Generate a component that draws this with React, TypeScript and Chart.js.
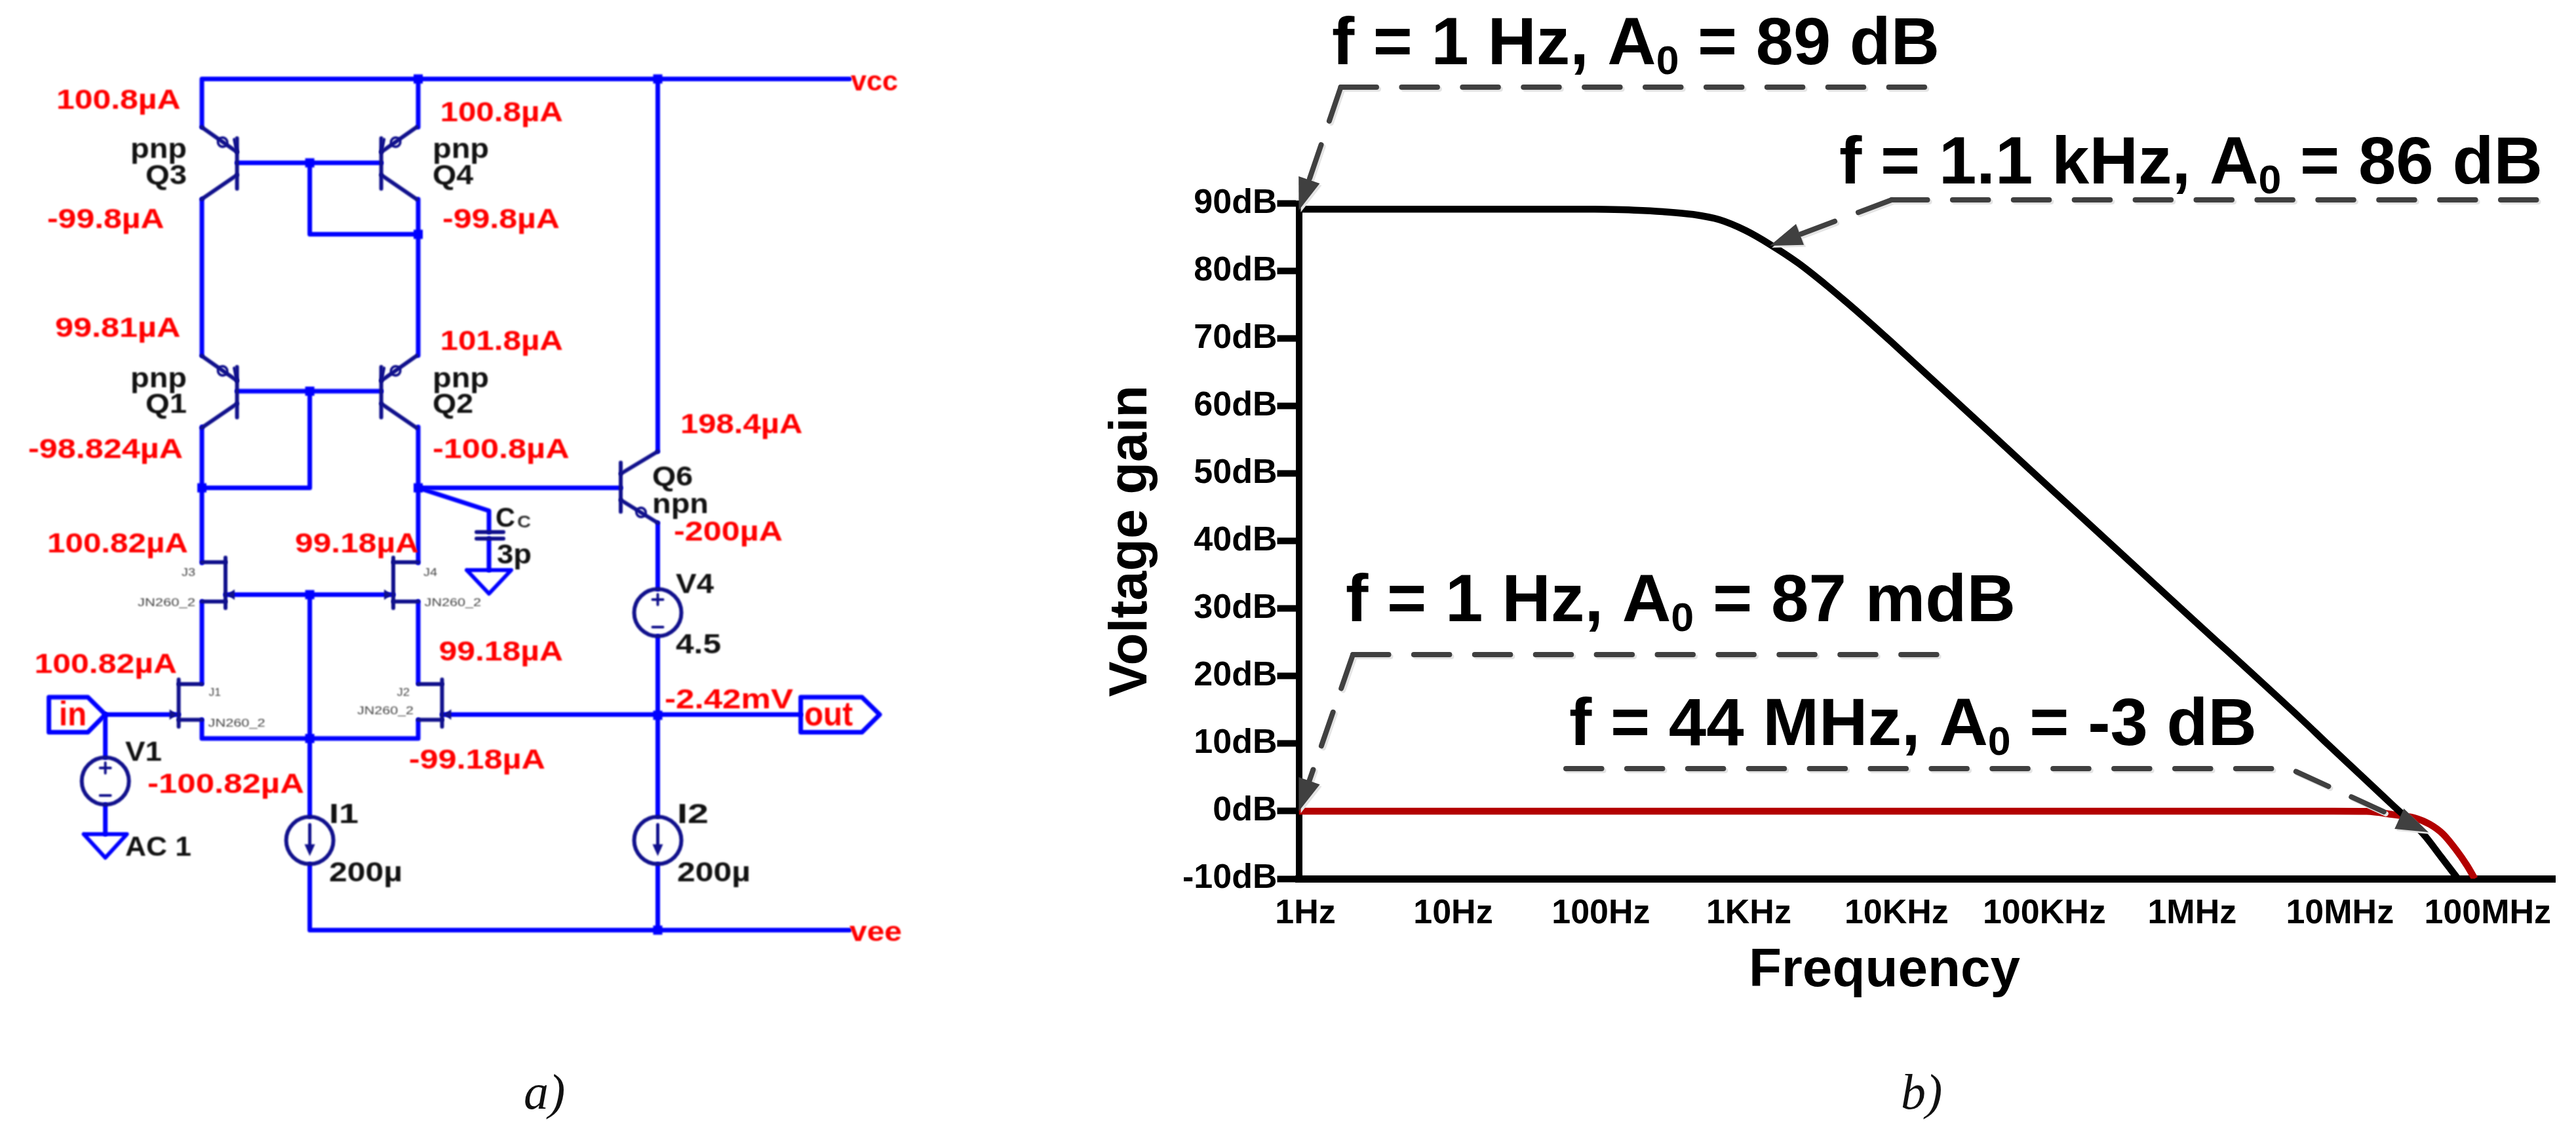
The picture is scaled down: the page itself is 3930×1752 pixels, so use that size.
import React, { useEffect, useRef } from "react";
import { Chart, registerables } from "chart.js";

Chart.register(...registerables);

// ---------- chart data ----------
const blackFreq = [1, 10, 100, 120, 186, 290, 466, 701, 1055, 1540, 2388, 3597, 5070, 6900, 10000, 100000, 1000000, 6250000, 9100000, 15140000, 25200000, 40700000, 53200000, 69500000];
const blackGain = [89.15, 89.15, 89.15, 89.13, 89.02, 88.8, 88.38, 87.6, 86.0, 83.95, 81.2, 78.15, 75.4, 72.85, 69.68, 49.53, 29.4, 13.39, 9.98, 5.45, 0.89, -3.4, -6.67, -10];
const redFreq = [1, 10, 100, 1000, 10000, 100000, 1000000, 10000000, 16800000, 25200000, 35400000, 45000000, 55300000, 67600000, 80000000, 90600000];
const redGain = [0, 0, 0, 0, 0, 0, 0, 0, -0.03, -0.5, -1, -1.95, -3.4, -5.7, -8, -10];
const xTickValues = [1, 10, 100, 1000, 10000, 100000, 1000000, 10000000, 100000000];
const xTickLabels = ["1Hz", "10Hz", "100Hz", "1KHz", "10KHz", "100KHz", "1MHz", "10MHz", "100MHz"];
const yTickValues = [-10, 0, 10, 20, 30, 40, 50, 60, 70, 80, 90];
const yTickLabels = ["-10dB", "0dB", "10dB", "20dB", "30dB", "40dB", "50dB", "60dB", "70dB", "80dB", "90dB"];
const xAxisTitle = "Frequency";
const yAxisTitle = "Voltage gain";
const noteHead = ["f = 1 Hz, A", "f = 1.1 kHz, A", "f = 1 Hz, A", "f = 44 MHz, A"];
const noteTail = [" = 89 dB", " = 86 dB", " = 87 mdB", " = -3 dB"];
const noteTipFreq = [1, 1540, 1, 44000000];
const noteTipGain = [89, 83.75, 0, -3.1];

// ---------- schematic text ----------
const redTexts = ["100.8µA", "100.8µA", "-99.8µA", "-99.8µA", "99.81µA", "101.8µA", "-98.824µA", "-100.8µA", "198.4µA", "-200µA", "100.82µA", "99.18µA", "100.82µA", "99.18µA", "-99.18µA", "-100.82µA", "-2.42mV", "vcc", "vee", "in", "out"];
const blackTexts = ["pnp", "Q3", "pnp", "Q4", "pnp", "Q1", "pnp", "Q2", "Q6", "npn", "C", "3p", "V4", "4.5", "V1", "AC 1", "I1", "200µ", "I2", "200µ"];
const deviceTexts = ["J3", "J4", "JN260_2", "JN260_2", "J1", "J2", "JN260_2", "JN260_2"];

const FONT = '"Liberation Sans"';
const WIRE = "#0000ff";
const DEV = "#10108c";

function fit(ctx: any, s: string, x0: number, x1: number, base: number, size: number, color: string, weight = "bold") {
  ctx.save();
  ctx.font = `${weight} ${size}px ${FONT}`;
  ctx.fillStyle = color;
  ctx.textAlign = "left";
  ctx.textBaseline = "alphabetic";
  const w = ctx.measureText(s).width;
  ctx.translate(x0, base);
  ctx.scale((x1 - x0) / w, 1);
  ctx.fillText(s, 0, 0);
  ctx.restore();
}

function poly(ctx: any, pts: number[][], color: string, width: number) {
  ctx.strokeStyle = color;
  ctx.lineWidth = width;
  ctx.lineCap = "round";
  ctx.lineJoin = "round";
  ctx.beginPath();
  pts.forEach((p, i) => (i ? ctx.lineTo(p[0], p[1]) : ctx.moveTo(p[0], p[1])));
  ctx.stroke();
}

function dot(ctx: any, x: number, y: number, r = 8) {
  ctx.fillStyle = WIRE;
  ctx.fillRect(x - r, y - r, r * 2, r * 2);
}

function drawBjt(ctx: any, barX: number, dir: number, top: number, pnp: boolean) {
  const outer = barX + dir * 54;
  poly(ctx, [[barX, top], [barX, top + 77]], DEV, 6);
  poly(ctx, [[outer, top - 17], [barX, top + 21]], DEV, 6);
  poly(ctx, [[barX, top + 56], [outer, top + 93]], DEV, 6);
  const cx = barX + dir * 22;
  ctx.strokeStyle = DEV;
  ctx.lineWidth = 4;
  ctx.beginPath();
  ctx.arc(cx, top + 6, 7, 0, Math.PI * 2);
  ctx.stroke();
  if (pnp) poly(ctx, [[barX, top + 21], [barX + dir * 4, top + 2]], DEV, 5);
}

function drawNpnQ6(ctx: any) {
  poly(ctx, [[947, 706], [947, 781]], DEV, 6);
  poly(ctx, [[947, 723], [1003.5, 689]], DEV, 6);
  poly(ctx, [[947, 763], [1003.5, 798]], DEV, 6);
  ctx.strokeStyle = DEV;
  ctx.lineWidth = 4;
  ctx.beginPath();
  ctx.arc(978, 782, 7, 0, Math.PI * 2);
  ctx.stroke();
}

function drawJfet(ctx: any, barX: number, wireX: number, top: number, gateY: number, srcY: number, len: number, gateDir: number) {
  poly(ctx, [[barX, top], [barX, top + len]], DEV, 6);
  poly(ctx, [[wireX, top + 7], [barX, top + 7]], DEV, 6);
  poly(ctx, [[wireX, srcY], [barX, srcY]], DEV, 6);
  ctx.fillStyle = DEV;
  ctx.beginPath();
  ctx.moveTo(barX + gateDir * 2, gateY);
  ctx.lineTo(barX + gateDir * 14, gateY - 8);
  ctx.lineTo(barX + gateDir * 14, gateY + 8);
  ctx.closePath();
  ctx.fill();
}

function ground(ctx: any, x: number, top: number, half: number, h: number) {
  poly(ctx, [[x - half, top], [x + half, top], [x, top + h], [x - half, top]], WIRE, 6);
}

function source(ctx: any, x: number, y: number, kind: "v" | "i") {
  ctx.strokeStyle = DEV;
  ctx.lineWidth = 6;
  ctx.beginPath();
  ctx.arc(x, y, 36, 0, Math.PI * 2);
  ctx.stroke();
  if (kind === "v") {
    poly(ctx, [[x - 8, y - 20], [x + 8, y - 20]], DEV, 4);
    poly(ctx, [[x, y - 28], [x, y - 12]], DEV, 4);
    poly(ctx, [[x - 8, y + 22], [x + 8, y + 22]], DEV, 4);
  } else {
    poly(ctx, [[x, y - 24], [x, y + 12]], DEV, 5);
    ctx.fillStyle = DEV;
    ctx.beginPath();
    ctx.moveTo(x - 8, y + 6);
    ctx.lineTo(x + 8, y + 6);
    ctx.lineTo(x, y + 24);
    ctx.closePath();
    ctx.fill();
  }
}

function drawSchematic(ctx: any) {
  const A = 308, B = 638, C = 1003.5, M = 472.6;
  const wires = [
    [[A, 194], [A, 120.5], [1296, 120.5]],
    [[B, 120.5], [B, 194]],
    [[C, 120.5], [C, 689]],
    [[361.6, 248.5], [581.6, 248.5]],
    [[M, 248.5], [M, 357.6], [B, 357.6]],
    [[A, 304], [A, 542.4]],
    [[B, 304], [B, 542.4]],
    [[361.6, 597], [581.6, 597]],
    [[M, 597], [M, 744.5], [A, 744.5]],
    [[A, 651.5], [A, 859]],
    [[B, 651.5], [B, 859]],
    [[B, 744.5], [947, 744.5]],
    [[B, 744.5], [746, 779.5], [746, 812]],
    [[746, 822], [746, 870]],
    [[344, 907.5], [600, 907.5]],
    [[M, 907.5], [M, 1246]],
    [[A, 918], [A, 1043]],
    [[B, 918], [B, 1043]],
    [[A, 1098.5], [A, 1127], [B, 1127], [B, 1098.5]],
    [[M, 1319], [M, 1419.5], [1296, 1419.5]],
    [[C, 798], [C, 899]],
    [[C, 971], [C, 1246]],
    [[C, 1319], [C, 1419.5]],
    [[160.7, 1090.5], [272.6, 1090.5]],
    [[674.4, 1090.5], [1221.6, 1090.5]],
    [[160.7, 1090.5], [160.7, 1156]],
    [[160.7, 1228], [160.7, 1273]],
  ];
  wires.forEach((w) => poly(ctx, w, WIRE, 7));

  drawBjt(ctx, 361.6, -1, 211, true);
  drawBjt(ctx, 581.6, 1, 211, true);
  drawBjt(ctx, 361.6, -1, 560, true);
  drawBjt(ctx, 581.6, 1, 560, true);
  drawNpnQ6(ctx);

  drawJfet(ctx, 344, A, 851, 907.5, 918, 77, 1);
  drawJfet(ctx, 600, B, 851, 907.5, 918, 77, -1);
  drawJfet(ctx, 272.6, A, 1037, 1090.5, 1098.5, 72, -1);
  drawJfet(ctx, 674.4, B, 1037, 1090.5, 1098.5, 72, 1);

  poly(ctx, [[727, 812], [768, 812]], DEV, 6);
  poly(ctx, [[727, 822], [768, 822]], DEV, 6);
  ground(ctx, 746, 870, 34, 36);
  ground(ctx, 160.7, 1273, 33, 36);

  source(ctx, C, 935, "v");
  source(ctx, 160.7, 1192, "v");
  source(ctx, M, 1282.6, "i");
  source(ctx, C, 1282.6, "i");

  [[B, 120.5], [C, 120.5], [M, 248.5], [B, 357.6], [M, 597], [A, 744.5], [B, 744.5], [M, 907.5], [M, 1127], [C, 1091.6], [C, 1419.5]].forEach((d) => dot(ctx, d[0], d[1], 7));

  poly(ctx, [[74.6, 1064], [134, 1064], [160.7, 1090.5], [134, 1117.5], [74.6, 1117.5], [74.6, 1064]], WIRE, 7);
  poly(ctx, [[1221.6, 1064], [1315, 1064], [1342, 1090.5], [1315, 1117.5], [1221.6, 1117.5], [1221.6, 1064]], WIRE, 7);

  const redPos = [
    [86, 275.5, 166], [671.5, 859, 185], [72, 250.6, 348], [675, 854, 348], [84, 275.5, 514], [671.5, 859, 534],
    [43, 279, 698.6], [660, 868.6, 698.6], [1038, 1224.5, 661], [1028, 1194, 825], [72, 287, 842.6], [450, 639, 842.6],
    [52.6, 270, 1027], [669.6, 859, 1008], [623.7, 832, 1173], [225, 464, 1209.6], [1014, 1210, 1081], [1298, 1370, 138],
    [1296, 1376, 1436], [90, 132, 1107], [1227, 1301, 1107],
  ];
  redTexts.forEach((t, i) => fit(ctx, t, redPos[i][0], redPos[i][1], redPos[i][2], i >= 19 ? 52 : 42, "#ff0000"));

  const blackPos = [
    [199, 285, 241], [222, 285, 281], [660, 746, 241], [660, 722, 281], [199, 285, 591], [222, 285, 630], [660, 746, 591], [660, 722, 630],
    [995, 1057, 740.5], [995, 1081, 783], [756, 786, 803.6], [758, 811, 860], [1031, 1089, 904.6], [1031, 1100, 996.7],
    [191, 247, 1160.7], [191, 292, 1305.6], [502, 547, 1255.6], [502, 614, 1345], [1033, 1081, 1255.6], [1033, 1145, 1345],
  ];
  blackTexts.forEach((t, i) => fit(ctx, t, blackPos[i][0], blackPos[i][1], blackPos[i][2], 42, "#111111"));
  fit(ctx, "C", 789, 810, 805, 26, "#333333");

  const devPos = [
    [277, 298, 879], [646, 667, 879], [210, 298, 925], [647.6, 734, 925], [318.5, 337, 1062], [605.5, 625, 1062], [317.6, 404.6, 1109], [545, 631, 1090],
  ];
  deviceTexts.forEach((t, i) => fit(ctx, t, devPos[i][0], devPos[i][1], devPos[i][2], 16, "#444444", "normal"));
}

function drawCaption(ctx: any, s: string, x: number, base: number) {
  ctx.save();
  ctx.font = 'italic 76px "Liberation Serif"';
  ctx.fillStyle = "#111";
  ctx.textAlign = "left";
  ctx.textBaseline = "alphabetic";
  ctx.fillText(s, x, base);
  ctx.restore();
}

function drawNotes(chart: any) {
  const ctx = chart.ctx;
  const xs = chart.scales.x;
  const ys = chart.scales.y;
  const layout = [
    { text: [2032, 2959, 98], rule: [[2045.5, 133], [2944, 133]], leader: [2045.5, 133] },
    { text: [2806, 3879, 280], rule: [[2886, 305], [3875, 305]], leader: [2886, 305] },
    { text: [2053, 3075, 948], rule: [[2064, 999], [2959, 999]], leader: [2064, 999] },
    { text: [2394, 3443, 1137], rule: null, leader: [3493, 1173], start: [2389, 1173] },
  ];
  layout.forEach((n: any, i) => {
    const tip = [xs.getPixelForValue(noteTipFreq[i]), ys.getPixelForValue(noteTipGain[i])];
    const prev = n.leader;
    const ang = Math.atan2(tip[1] - prev[1], tip[0] - prev[0]);
    const hl = 49, hw = 17;
    const bx = tip[0] - Math.cos(ang) * hl;
    const by = tip[1] - Math.sin(ang) * hl;
    const paths = n.rule ? [n.rule, [n.leader, [bx, by]]] : [[n.start, n.leader, [bx, by]]];
    [["#e4e4e4", 3], ["#404040", 0]].forEach(([col, off]: any) => {
      ctx.save();
      ctx.translate(off, off);
      ctx.setLineDash([54.5, 38.4]);
      paths.forEach((p: number[][]) => poly(ctx, p, col, 8));
      ctx.setLineDash([]);
      ctx.fillStyle = col;
      ctx.beginPath();
      ctx.moveTo(tip[0], tip[1]);
      ctx.lineTo(bx - Math.sin(ang) * hw, by + Math.cos(ang) * hw);
      ctx.lineTo(bx + Math.sin(ang) * hw, by - Math.cos(ang) * hw);
      ctx.closePath();
      ctx.fill();
      ctx.restore();
    });

    const [x0, x1, base] = n.text;
    const size = 102, sub = 62;
    ctx.save();
    ctx.textAlign = "left";
    ctx.textBaseline = "alphabetic";
    ctx.fillStyle = "#000";
    ctx.font = `bold ${size}px ${FONT}`;
    const w1 = ctx.measureText(noteHead[i]).width;
    const w3 = ctx.measureText(noteTail[i]).width;
    ctx.font = `bold ${sub}px ${FONT}`;
    const w2 = ctx.measureText("0").width;
    ctx.translate(x0, base);
    ctx.scale((x1 - x0) / (w1 + w2 + w3), 1);
    ctx.font = `bold ${size}px ${FONT}`;
    ctx.fillText(noteHead[i], 0, 0);
    ctx.fillText(noteTail[i], w1 + w2, 0);
    ctx.font = `bold ${sub}px ${FONT}`;
    ctx.fillText("0", w1, 15);
    ctx.restore();
  });
  fit(ctx, xAxisTitle, 2668, 3082, 1505, 81, "#000");
}

const sceneryPlugin = {
  id: "scenery",
  beforeDraw(chart: any) {
    const ctx = chart.ctx;
    ctx.save();
    ctx.fillStyle = "#ffffff";
    ctx.fillRect(0, 0, chart.width, chart.height);
    ctx.filter = "blur(1px)";
    drawSchematic(ctx);
    ctx.filter = "none";
    drawCaption(ctx, "a)", 799, 1692);
    drawCaption(ctx, "b)", 2900, 1692);
    ctx.restore();
  },
  afterDraw(chart: any) {
    const ctx = chart.ctx;
    ctx.save();
    drawNotes(chart);
    ctx.restore();
  },
};

export default function App() {
  const ref = useRef<HTMLCanvasElement | null>(null);
  useEffect(() => {
    document.body.style.margin = "0";
    const chart = new Chart(ref.current as any, {
      type: "line",
      plugins: [sceneryPlugin],
      data: {
        datasets: [
          {
            label: "Gain",
            data: blackFreq.map((f, i) => ({ x: f, y: blackGain[i] })),
            borderColor: "#000000",
            borderWidth: 10.5,
            pointRadius: 0,
            cubicInterpolationMode: "monotone",
          },
          {
            label: "Closed loop gain",
            data: redFreq.map((f, i) => ({ x: f, y: redGain[i] })),
            borderColor: "#b30000",
            borderWidth: 10.5,
            pointRadius: 0,
            cubicInterpolationMode: "monotone",
          },
        ],
      },
      options: {
        responsive: false,
        devicePixelRatio: 1,
        animation: false,
        layout: { padding: { left: 1678, top: 310.6, right: 32, bottom: 311 } },
        plugins: { legend: { display: false }, title: { display: false }, tooltip: { enabled: false } },
        scales: {
          x: {
            type: "logarithmic",
            min: 1,
            max: Math.pow(10, 8.5),
            afterBuildTicks: (s: any) => {
              s.ticks = xTickValues.map((v) => ({ value: v }));
            },
            afterFit: (s: any) => {
              s.height = 100;
            },
            grid: { display: false },
            border: { display: true, color: "#000000", width: 11 },
            ticks: {
              autoSkip: false,
              maxRotation: 0,
              minRotation: 0,
              padding: 14,
              labelOffset: 10,
              color: "#000000",
              font: { family: "Liberation Sans", weight: "bold", size: 52 },
              callback: (v: any) => {
                const i = xTickValues.indexOf(Number(v));
                return i >= 0 ? xTickLabels[i] : "";
              },
            },
          },
          y: {
            type: "linear",
            min: -10,
            max: 90,
            afterBuildTicks: (s: any) => {
              s.ticks = yTickValues.map((v) => ({ value: v }));
            },
            afterFit: (s: any) => {
              s.width = 303.5;
            },
            grid: { drawOnChartArea: false, drawTicks: true, tickLength: 33, tickWidth: 10, tickColor: "#000000" },
            border: { display: true, color: "#000000", width: 10 },
            title: {
              display: true,
              text: yAxisTitle,
              color: "#000000",
              font: { family: "Liberation Sans", weight: "bold", size: 81 },
              padding: 0,
            },
            ticks: {
              padding: 0,
              color: "#000000",
              font: { family: "Liberation Sans", weight: "bold", size: 52 },
              callback: (v: any) => {
                const i = yTickValues.indexOf(Number(v));
                return i >= 0 ? yTickLabels[i] : "";
              },
            },
          },
        },
      },
    } as any);
    return () => chart.destroy();
  }, []);
  return <canvas ref={ref} width={3930} height={1752} style={{ display: "block", width: 3930, height: 1752 }} />;
}
